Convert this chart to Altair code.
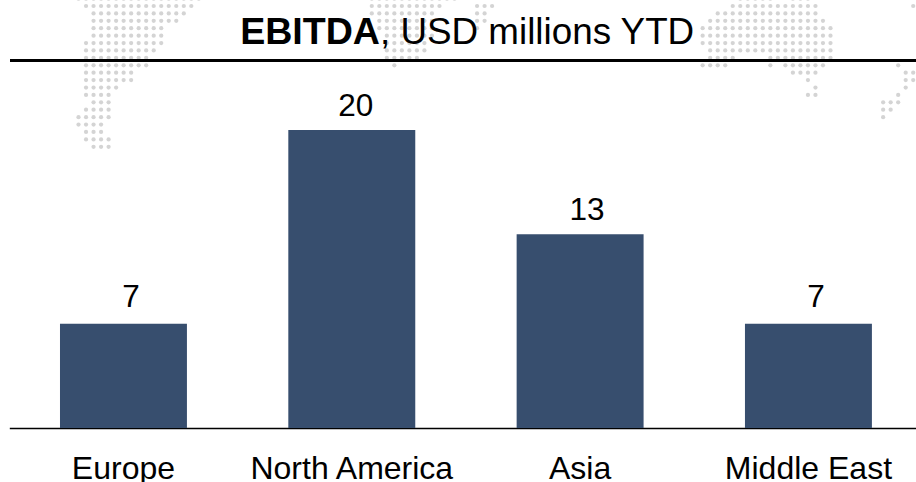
import altair as alt
import pandas as pd

regions = ["Europe", "North America", "Asia", "Middle East"]
ebitda = [7, 20, 13, 7]

# Dot-matrix world map: (row, [(first column, last column), ...])
map_spans = [
    (-1, [(0, 16), (39, 50), (88, 92), (95, 97)]),
    (0, [(1, 15), (39, 48), (53, 55), (87, 98), (111, 111)]),
    (1, [(2, 14), (39, 47), (53, 54), (85, 98)]),
    (2, [(2, 13), (40, 47), (53, 54), (84, 99)]),
    (3, [(2, 11), (40, 47), (53, 53), (83, 100)]),
    (4, [(2, 11), (41, 47), (83, 100)]),
    (5, [(1, 11), (41, 46), (83, 100)]),
    (6, [(1, 10), (41, 46), (84, 100)]),
    (7, [(1, 9), (41, 45), (84, 87), (92, 100)]),
    (8, [(1, 9), (42, 42), (83, 86), (92, 92), (94, 99), (109, 109)]),
    (9, [(1, 7), (95, 98), (110, 111)]),
    (10, [(1, 7), (97, 97), (110, 111)]),
    (11, [(1, 5), (98, 98), (110, 110)]),
    (12, [(1, 4), (97, 98), (109, 109)]),
    (13, [(2, 4), (107, 109)]),
    (14, [(1, 4), (107, 108)]),
    (15, [(0, 4), (107, 107)]),
    (16, [(0, 3)]),
    (17, [(1, 3)]),
    (18, [(1, 4)]),
    (19, [(2, 4)]),
]

FONT = "Liberation Sans"
BAR_COLOR = "#374E6E"

bars_df = pd.DataFrame({"region": regions, "ebitda": ebitda})
dots_df = pd.DataFrame(
    [
        {"col": c, "row": row}
        for row, spans in map_spans
        for first, last in spans
        for c in range(first, last + 1)
    ]
)

band_scale = alt.Scale(
    domain=regions, range=[9.3, 922.6], paddingInner=0.444, paddingOuter=0.222
)
x_band = alt.X(
    "region:N",
    sort=regions,
    scale=band_scale,
    axis=alt.Axis(
        title=None,
        labelAngle=0,
        labelFont=FONT,
        labelFontSize=32,
        labelColor="black",
        labelPadding=50,
        labelBaseline="alphabetic",
        labelOverlap=False,
        labelLimit=400,
        ticks=False,
        domainColor="black",
        domainWidth=1.5,
        grid=False,
    ),
)
x_band_plain = alt.X("region:N", sort=regions, scale=band_scale, axis=None)
y_value = alt.Y(
    "ebitda:Q", scale=alt.Scale(domain=[0, 428 / 14.9], nice=False), axis=None
)

dots = (
    alt.Chart(dots_df)
    .mark_circle(color="#d4d4d4", opacity=1, size=18)
    .encode(
        x=alt.X("col:Q", scale=alt.Scale(domain=[-10.44, 111.37], nice=False, zero=False), axis=None),
        y=alt.Y("row:Q", scale=alt.Scale(domain=[56.95, -0.81], nice=False, zero=False), axis=None),
    )
)

bars = alt.Chart(bars_df).mark_bar(color=BAR_COLOR).encode(x=x_band, y=y_value)


def value_labels(value, dx, dy):
    """Value labels for the bars of one height, nudged off the bar centre."""
    return (
        alt.Chart(bars_df)
        .transform_filter(alt.datum.ebitda == value)
        .mark_text(
            font=FONT, fontSize=31.5, color="black", baseline="alphabetic", dx=dx, dy=dy
        )
        .encode(x=x_band_plain, y=y_value, text="ebitda:Q")
    )


top_rule = (
    alt.Chart(bars_df.head(1))
    .mark_rule(color="black", strokeWidth=3)
    .encode(x=alt.value(10), x2=alt.value(916), y=alt.value(60.5))
)

title_bold = (
    alt.Chart(bars_df.head(1))
    .mark_text(font=FONT, fontSize=37.6, fontWeight="bold", color="black", align="right", baseline="alphabetic")
    .encode(x=alt.value(380), y=alt.value(43.5), text=alt.value("EBITDA"))
)
title_rest = (
    alt.Chart(bars_df.head(1))
    .mark_text(font=FONT, fontSize=36.8, color="black", align="left", baseline="alphabetic")
    .encode(x=alt.value(380), y=alt.value(43.5), text=alt.value(", USD millions YTD"))
)

chart = (
    alt.layer(
        dots,
        bars,
        value_labels(7, 7.5, -17),
        value_labels(20, 4, -14.5),
        value_labels(13, 7, -14.5),
        top_rule,
        title_bold,
        title_rest,
    )
    .resolve_scale(x="independent", y="independent")
    .properties(
        width=916,
        height=428,
        padding={"left": 0, "top": 0, "right": 0, "bottom": 54},
        autosize=alt.AutoSizeParams(type="none"),
        background="white",
    )
    .configure_view(stroke=None)
)

chart.save("out.html", embed_options={"renderer": "svg", "actions": False})
